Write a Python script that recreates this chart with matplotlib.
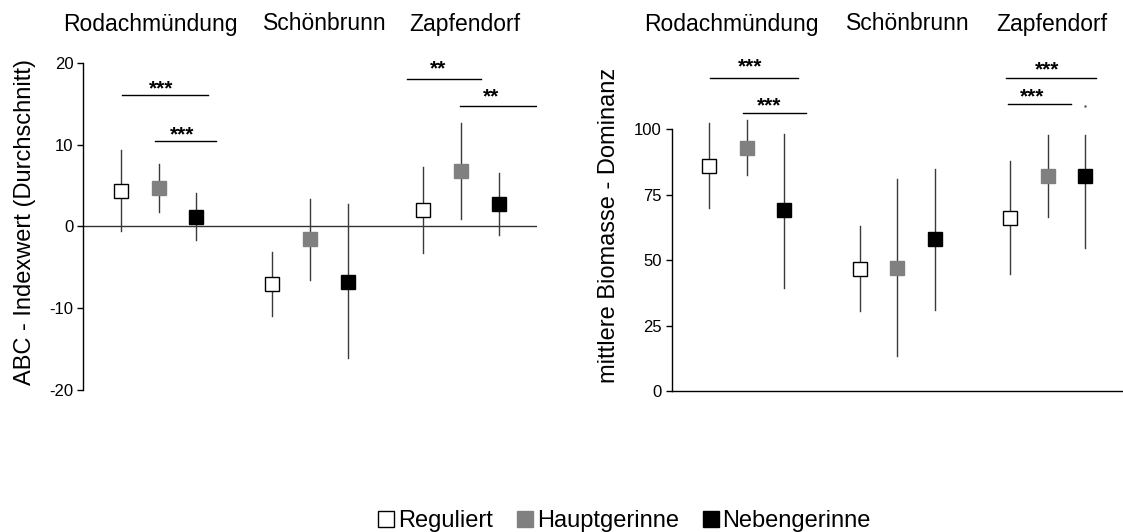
import matplotlib
matplotlib.use("Agg")
import matplotlib.pyplot as plt
import matplotlib.transforms as mtransforms
from matplotlib.lines import Line2D

plt.rcParams["font.family"] = ["Liberation Sans", "DejaVu Sans"]
plt.rcParams["axes.unicode_minus"] = False

# positions of the points (three groups of three)
xpos = [0, 1, 2, 4, 5, 6, 8, 9, 10]
sites = ["Rodachmündung", "Schönbrunn", "Zapfendorf"]
kinds = ["Reguliert", "Hauptgerinne", "Nebengerinne"]

# ABC index (mean, upper, lower)
abc_mean = [4.4, 4.7, 1.2, -7.0, -1.5, -6.75, 2.0, 6.8, 2.8]
abc_hi = [9.35, 7.6, 4.1, -3.1, 3.4, 2.8, 7.3, 12.7, 6.6]
abc_lo = [-0.5, 1.8, -1.6, -10.9, -6.6, -16.1, -3.3, 0.9, -1.0]

# biomass dominance (mean, upper, lower)
bio_mean = [86.1, 92.9, 69.0, 46.6, 47.1, 58.0, 65.9, 82.0, 82.0]
bio_hi = [102.3, 103.6, 98.2, 63.0, 81.0, 84.7, 87.9, 97.7, 97.7]
bio_lo = [69.9, 82.3, 39.5, 30.5, 13.3, 30.9, 44.6, 66.5, 54.7]

# significance bars: x start, x end, line y, star x, star y, label
abc_sig_x0 = [0.02, 0.91, 7.56, 8.97]
abc_sig_x1 = [2.31, 2.52, 9.52, 10.97]
abc_sig_y = [16.1, 10.4, 18.1, 14.7]
abc_star_x = [1.07, 1.61, 8.38, 9.80]
abc_star_y = [17.1, 11.5, 19.5, 16.1]
abc_star = ["***", "***", "**", "**"]

bio_sig_x0 = [0.01, 0.90, 7.90, 7.95]
bio_sig_x1 = [2.35, 2.57, 10.27, 9.61]
bio_sig_y = [119.5, 106.1, 119.5, 109.6]
bio_star_x = [1.09, 1.59, 8.98, 8.58]
bio_star_y = [124.6, 109.5, 123.3, 113.0]
bio_star = ["***", "***", "***", "***"]

# site-name positions (x in data units of each panel)
title_x1 = [0.79, 5.39, 9.10]
title_x2 = [0.58, 5.29, 9.10]

face = ["white", "#808080", "black"]
edge = ["black", "#808080", "black"]
err_col = "#3a3a3a"

fig = plt.figure(figsize=(11.23, 5.32), dpi=100)
ax1 = fig.add_axes([0.0739, 0.267, 0.404, 0.6146])
ax2 = fig.add_axes([0.598, 0.265, 0.402, 0.640])


def draw_points(ax, mean, hi, lo):
    for i, x in enumerate(xpos):
        k = i % 3
        ax.plot([x, x], [lo[i], hi[i]], color=err_col, lw=1.0, zorder=2)
        ax.plot(x, mean[i], marker="s", ms=9.5, mfc=face[k], mec=edge[k],
                mew=1.0, zorder=3)


def draw_sig(ax, x0, x1, y, sx, sy, labels):
    for i in range(len(x0)):
        ax.plot([x0[i], x1[i]], [y[i], y[i]], color="black", lw=1.0)
        ax.annotate(labels[i], (sx[i], sy[i]), xytext=(0, -5.5),
                    textcoords="offset points", ha="center", va="baseline",
                    fontsize=15, fontweight="bold")


# left panel: ABC index
draw_points(ax1, abc_mean, abc_hi, abc_lo)
draw_sig(ax1, abc_sig_x0, abc_sig_x1, abc_sig_y, abc_star_x, abc_star_y, abc_star)
ax1.axhline(0, color="#333333", lw=1.0, zorder=1)
ax1.set_xlim(-1, 11)
ax1.set_ylim(-20, 20)
ax1.set_yticks([-20, -10, 0, 10, 20])
ax1.set_xticks([])
for s in ["top", "right", "bottom"]:
    ax1.spines[s].set_visible(False)

# right panel: biomass dominance
draw_points(ax2, bio_mean, bio_hi, bio_lo)
draw_sig(ax2, bio_sig_x0, bio_sig_x1, bio_sig_y, bio_star_x, bio_star_y, bio_star)
ax2.plot(10.0, 108.9, marker=".", ms=1.5, color="#555555")
ax2.set_xlim(-1, 11)
ax2.set_ylim(0, 130)
ax2.set_yticks([0, 25, 50, 75, 100])
ax2.set_xticks([])
ax2.spines["left"].set_bounds(0, 100)
for s in ["top", "right"]:
    ax2.spines[s].set_visible(False)

for ax in (ax1, ax2):
    ax.patch.set_alpha(0)
    ax.spines["left"].set_linewidth(1.0)
    ax.spines["bottom"].set_linewidth(1.0)
    ax.tick_params(axis="y", length=4, width=1.0, pad=3, labelsize=12)

# site names above each panel
for ax, xs in ((ax1, title_x1), (ax2, title_x2)):
    tr = mtransforms.blended_transform_factory(ax.transData, fig.transFigure)
    for name, x in zip(sites, xs):
        ax.text(x, 1 - 24 / 532, name, transform=tr, fontsize=16.5,
                ha="center", va="center", clip_on=False)

fig.text(0.022, 1 - 222 / 532, "ABC - Indexwert (Durchschnitt)", rotation=90,
         ha="center", va="center", fontsize=17)
fig.text(0.542, 1 - 225 / 532, "mittlere Biomasse - Dominanz", rotation=90,
         ha="center", va="center", fontsize=17)

handles = [Line2D([], [], ls="none", marker="s", ms=11, mfc=face[k], mec=edge[k],
                  mew=1.0) for k in range(3)]
fig.legend(handles, kinds, loc="center", bbox_to_anchor=(0.556, 0.021), ncol=3,
           frameon=False, fontsize=17, handlelength=0.7, handletextpad=0.15,
           columnspacing=1.0, borderaxespad=0)

fig.savefig("out.png", dpi=100)
